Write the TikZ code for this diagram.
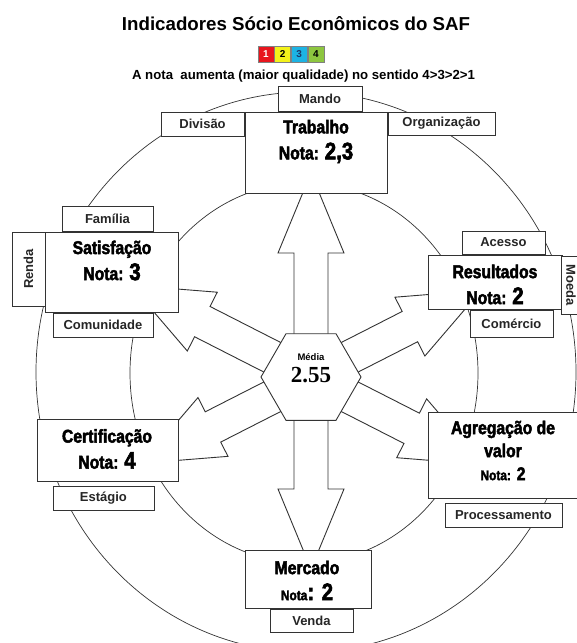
\documentclass[tikz,border=0pt]{standalone}
\usepackage{fontspec}
\setmainfont{Liberation Sans}
\newfontfamily\heavyfont[UprightFont={* Bold}, FakeStretch=0.85, FakeBold=2.5]{Liberation Sans}
\newfontfamily\serifnum{Liberation Serif}
\usetikzlibrary{positioning, shapes.geometric}
\definecolor{notared}{HTML}{E8161E}
\definecolor{notayellow}{HTML}{F4F21A}
\definecolor{notacyan}{HTML}{1DB3E3}
\definecolor{notagreen}{HTML}{8DC63F}
\definecolor{notanavy}{HTML}{1B3A6B}
\definecolor{inkgray}{HTML}{333333}
\newcommand{\notanum}[1]{{\fontsize{24}{26}\selectfont #1}}

\begin{document}
\begin{tikzpicture}[x=1pt, y=1pt,
  ring/.style={draw=inkgray, line width=0.7pt},
  blockarrow/.style={draw=inkgray, fill=white, line width=0.9pt},
  mainbox/.style={draw=inkgray, fill=white, line width=1pt, inner sep=0pt},
  tag/.style={draw=inkgray, fill=white, line width=0.9pt, inner sep=0pt,
              font=\bfseries\fontsize{13}{15}\selectfont, text=black!85},
  heading/.style={font=\heavyfont\fontsize{18.5}{26}\selectfont,
                  align=center, inner sep=0pt},
  legbox/.style={draw=gray, line width=0.6pt, minimum width=16pt,
                 minimum height=16pt, inner sep=0pt,
                 font=\bfseries\fontsize{10}{10}\selectfont}]
  \useasboundingbox (0,0) rectangle (577,-643);

  % title and legend
  \node[font=\bfseries\fontsize{18.7}{22}\selectfont, anchor=base] (title)
    at (296,-30) {Indicadores Sócio Econômicos do SAF};
  \node[legbox, fill=notared, text=white] (leg1) at (266,-54) {1};
  \node[legbox, fill=notayellow, right=0pt of leg1] (leg2) {2};
  \node[legbox, fill=notacyan, text=notanavy, right=0pt of leg2] (leg3) {3};
  \node[legbox, fill=notagreen, right=0pt of leg3] (leg4) {4};
  \node[font=\bfseries\fontsize{13.2}{15}\selectfont, anchor=base] (subtitle)
    at (303.5,-79) {A nota~ aumenta (maior qualidade) no sentido 4>3>2>1};

  % rings
  \draw[ring] (306,-372) ellipse [x radius=270, y radius=280];
  \draw[ring] (304,-373) ellipse [x radius=174, y radius=190];

  % block arrows out of the centre
  \coordinate (mid) at (311,-377);
  \foreach \ang/\base in {90/124, 153/122, 27/111, 207/110, 333/113, 270/112}
    \draw[blockarrow, shift={(mid)}, rotate=\ang]
      (0,-17) -- (\base,-17) -- (\base,-33) -- (\base+80,0)
      -- (\base,33) -- (\base,17) -- (0,17) -- cycle;

  \node[regular polygon, regular polygon sides=6, minimum size=100pt,
        draw=inkgray, fill=white, line width=0.9pt, inner sep=0pt] (media) at (mid) {};
  \node[align=center, inner sep=0pt, font=\bfseries\fontsize{9.5}{22}\selectfont]
    (mediatxt) at ([yshift=9]media.center)
    {Média\\{\serifnum\fontsize{23}{22}\selectfont 2.55}};

  % indicator boxes
  \node[mainbox, minimum width=142, minimum height=81] (trab) at (316,-152.5) {};
  \node[heading] (trabtxt) at (316,-141.5) {Trabalho\\Nota: \notanum{2,3}};
  \node[mainbox, minimum width=133, minimum height=80] (sat) at (111.5,-272) {};
  \node[heading] (sattxt) at (112,-260.5) {Satisfação\\Nota: \notanum{3}};
  \node[mainbox, minimum width=134, minimum height=54] (res) at (495,-282) {};
  \node[heading] (restxt) at (495,-284.5) {Resultados\\Nota: \notanum{2}};
  \node[mainbox, minimum width=141, minimum height=62] (cert) at (107.5,-450) {};
  \node[heading] (certtxt) at (107,-449) {Certificação\\Nota: \notanum{4}};
  \node[mainbox, minimum width=152, minimum height=86] (agr) at (504,-455) {};
  \node[heading, font=\heavyfont\fontsize{18.5}{23}\selectfont] (agrtxt)
    at (503,-450.5) {Agregação de\\valor\\{\fontsize{14}{23}\selectfont Nota:} 2};
  \node[mainbox, minimum width=126, minimum height=58] (merc) at (308,-579) {};
  \node[heading] (merctxt) at (307,-580.5)
    {Mercado\\{\fontsize{14}{26}\selectfont Nota}\notanum{: 2}};

  % sub-indicator tags
  \node[tag, minimum width=84, minimum height=25, above=0pt of trab, xshift=4] (mando) {Mando};
  \node[tag, minimum width=83, minimum height=24, anchor=north east] (div) at (trab.north west) {Divisão};
  \node[tag, minimum width=107, minimum height=23, anchor=north west] (org) at (trab.north east) {Organização};
  \node[tag, minimum width=91, minimum height=25, anchor=south west] (fam) at ([xshift=17]sat.north west) {Família};
  \node[tag, rotate=90, minimum width=74, minimum height=33] (renda) at (28.5,-269) {Renda};
  \node[tag, minimum width=100, minimum height=24, anchor=north west] (com) at ([xshift=8]sat.south west) {Comunidade};
  \node[tag, minimum width=83, minimum height=23, anchor=south west] (acesso) at ([xshift=34]res.north west) {Acesso};
  \node[tag, rotate=-90, minimum width=58, minimum height=20] (moeda) at (571,-285) {Moeda};
  \node[tag, minimum width=83, minimum height=27, anchor=north west] (comerc) at ([xshift=42]res.south west) {Comércio};
  \node[tag, minimum width=101, minimum height=24, anchor=north west] (estagio) at ([xshift=16,yshift=-4]cert.south west) {Estágio};
  \node[tag, minimum width=117, minimum height=24, anchor=north west] (proc) at ([xshift=17,yshift=-4]agr.south west) {Processamento};
  \node[tag, minimum width=83, minimum height=23, anchor=north west] (venda) at ([xshift=25]merc.south west) {Venda};
\end{tikzpicture}
\end{document}
